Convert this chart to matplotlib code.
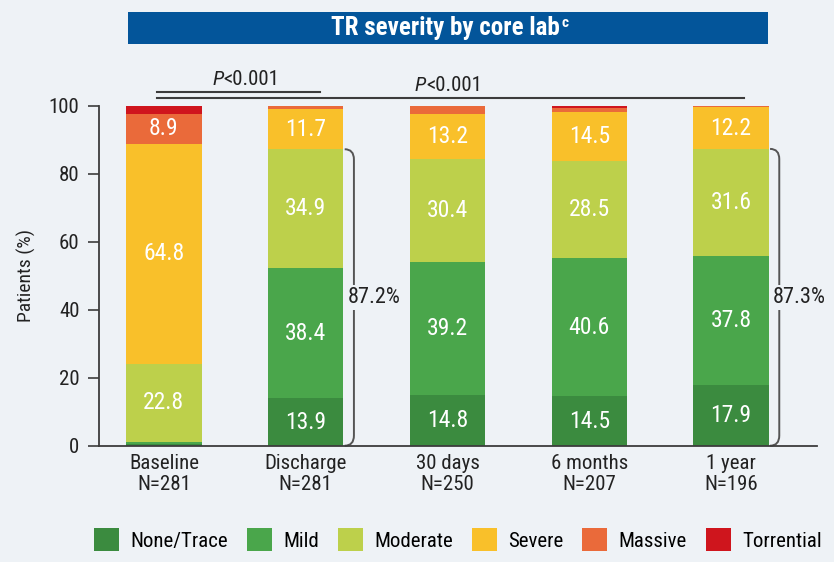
import matplotlib

matplotlib.use("Agg")
import matplotlib.pyplot as plt
import numpy as np
from matplotlib.patches import Patch, PathPatch, Rectangle
from matplotlib.path import Path

plt.rcParams["font.family"] = ["Roboto Condensed", "Open Sans", "DejaVu Sans"]

BG = "#eef2f6"
DARK = "#3c3c3c"
TXT = "#222222"

categories = ["Baseline", "Discharge", "30 days", "6 months", "1 year"]
sample_sizes = [281, 281, 250, 207, 196]
grades = ["None/Trace", "Mild", "Moderate", "Severe", "Massive", "Torrential"]
colors = ["#3b8b3f", "#4aa64b", "#bdd04b", "#f9c02a", "#ea6a3a", "#cf151d"]

none_trace = [0.4, 13.9, 14.8, 14.5, 17.9]
mild = [0.8, 38.4, 39.2, 40.6, 37.8]
moderate = [22.8, 34.9, 30.4, 28.5, 31.6]
severe = [64.8, 11.7, 13.2, 14.5, 12.2]
massive = [8.9, 1.1, 2.4, 1.2, 0.5]
torrential = [2.3, 0.0, 0.0, 0.7, 0.0]

series = [none_trace, mild, moderate, severe, massive, torrential]
bracket_values = {1: "87.2%", 4: "87.3%"}

fig = plt.figure(figsize=(8.34, 5.62), dpi=100)
fig.patch.set_facecolor(BG)
ax = fig.add_axes([0.1187, 0.2069, 0.8609, 0.6050])
ax.set_facecolor(BG)

x = np.arange(len(categories))
width = 0.53
bottom = np.zeros(len(categories))
for values, color in zip(series, colors):
    values = np.array(values)
    ax.bar(x, values, width, bottom=bottom, color=color, linewidth=0)
    for xi, b, v in zip(x, bottom, values):
        if v >= 5:
            ax.text(xi, b + v / 2, f"{v:.1f}", ha="center", va="center",
                    color="white", fontsize=17)
    bottom += values

ax.set_xlim(-0.458, 4.606)
ax.set_ylim(0, 100)
ax.set_yticks([0, 20, 40, 60, 80, 100])
ax.set_xticks(x)
ax.set_xticklabels([f"{c}\nN={n}" for c, n in zip(categories, sample_sizes)],
                   fontsize=15, color=TXT, linespacing=1.1)
ax.tick_params(axis="x", length=0, pad=6)
ax.tick_params(axis="y", length=8, width=1.2, color=DARK, labelsize=15,
               labelcolor=TXT, pad=6)
ax.set_ylabel("Patients (%)", fontsize=14, color=TXT, labelpad=9)
for side in ["top", "right"]:
    ax.spines[side].set_visible(False)
for side in ["left", "bottom"]:
    ax.spines[side].set_color(DARK)
    ax.spines[side].set_linewidth(1.3)

# brackets for none/trace + mild + moderate
for idx, label in bracket_values.items():
    top = none_trace[idx] + mild[idx] + moderate[idx]
    x0 = idx + width / 2 + 0.01
    x1 = idx + width / 2 + 0.075
    verts = [(x0, top), (x1, top), (x1, top - 3), (x1, 3), (x1, 0), (x0, 0)]
    codes = [Path.MOVETO, Path.CURVE3, Path.CURVE3, Path.LINETO, Path.CURVE3, Path.CURVE3]
    ax.add_patch(PathPatch(Path(verts, codes), facecolor="none", edgecolor="#555555",
                           linewidth=1.4, clip_on=False))
    ax.text(x1 - 0.045, top / 2, label, ha="left", va="center", fontsize=16,
            color=TXT, clip_on=False,
            bbox=dict(facecolor=BG, edgecolor="none", pad=1.5))

# p-value lines
ax.plot([-0.05, 1.10], [104.1, 104.1], color=DARK, lw=1.5, clip_on=False)
ax.plot([-0.05, 4.09], [102.2, 102.2], color=DARK, lw=1.5, clip_on=False)
for xc, yc in [(0.42, 105.0), (1.85, 103.1)]:
    ax.text(xc, yc, "P", ha="right", va="bottom", fontsize=15, style="italic",
            color=TXT, clip_on=False)
    ax.text(xc, yc, "<0.001", ha="left", va="bottom", fontsize=15,
            color=TXT, clip_on=False)

# title banner
fig.patches.append(Rectangle((128 / 834, 1 - 44 / 562), 640 / 834, 32 / 562,
                             transform=fig.transFigure, facecolor="#03559a",
                             edgecolor="none"))
title = fig.text(445 / 834, 1 - 28.5 / 562, "TR severity by core lab", ha="center",
                 va="center", color="white", fontsize=18, fontweight="bold")
fig.canvas.draw()
bb = title.get_window_extent().transformed(fig.transFigure.inverted())
fig.text(bb.x1 + 0.002, 1 - 23 / 562, "c", ha="left", va="center", color="white",
         fontsize=11, fontweight="bold")

handles = [Patch(facecolor=c, edgecolor="none") for c in colors]
fig.legend(handles, grades, loc="lower center", bbox_to_anchor=(0.549, -0.014), ncol=6,
           frameon=False, fontsize=15, handlelength=1.2, handleheight=1.3,
           handletextpad=0.55, columnspacing=0.9)

fig.savefig("out.png", dpi=100, facecolor=BG)
